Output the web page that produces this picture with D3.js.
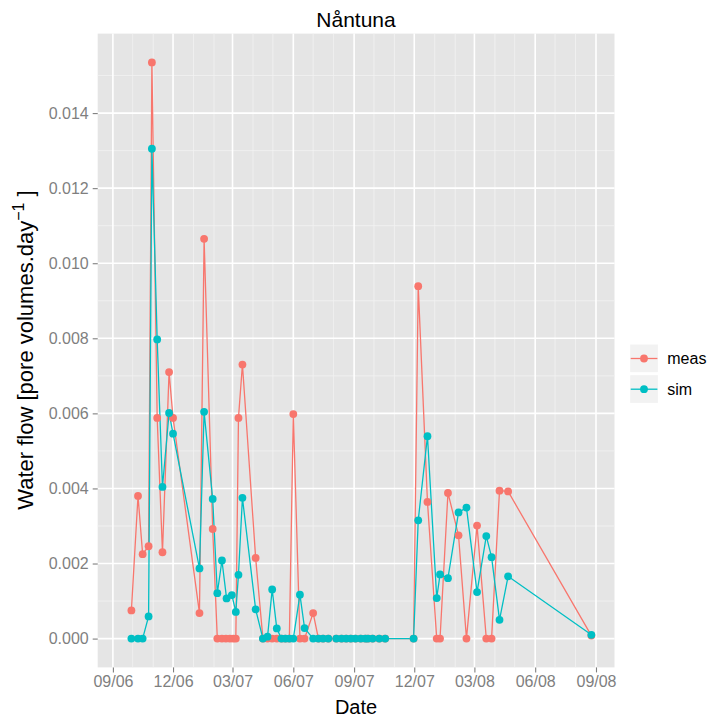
<!DOCTYPE html>
<html>
<head>
<meta charset="utf-8">
<script src="https://cdn.jsdelivr.net/npm/d3@7"></script>
<style>
  body { margin: 0; background: #fff; }
  svg text { font-family: "Liberation Sans", Arial, sans-serif; }
</style>
</head>
<body>
<div id="chart"></div>
<script>
// measured flow
const measDates = ["2006-09-29","2006-10-09","2006-10-16","2006-10-25","2006-10-30","2006-11-07","2006-11-15","2006-11-25","2006-12-01",
  "2007-01-10","2007-01-17","2007-01-30","2007-02-06","2007-02-13","2007-02-19","2007-02-25","2007-03-02","2007-03-06","2007-03-10","2007-03-16",
  "2007-04-05","2007-04-16","2007-04-23","2007-04-30","2007-05-07","2007-05-14","2007-05-20","2007-05-26","2007-06-01","2007-06-11","2007-06-18",
  "2007-07-01","2007-07-09","2007-07-16","2007-07-24","2007-08-05","2007-08-13","2007-08-20","2007-08-27","2007-09-03","2007-09-11","2007-09-18",
  "2007-09-22","2007-09-29","2007-10-09","2007-10-18","2007-11-30","2007-12-07","2007-12-21",
  "2008-01-04","2008-01-09","2008-01-21","2008-02-06","2008-02-18","2008-03-05","2008-03-19","2008-03-27","2008-04-08","2008-04-21","2008-08-25"];
const measValues = [0.00075,0.0038,0.00225,0.00246,0.01535,0.00588,0.0023,0.0071,0.00588,
  0.00068,0.01065,0.00292,0,0,0,0,0,0,0.00588,0.0073,
  0.00215,0,0,0,0,0,0,0,0.00598,0,0,
  0.00068,0,0,0,0,0,0,0,0,0,0,
  0,0,0,0,0,0.00939,0.00364,
  0,0,0.00388,0.00275,0,0.00301,0,0,0.00394,0.00392,0.00008];

// simulated flow
const simDates = ["2006-09-29","2006-10-09","2006-10-16","2006-10-25","2006-10-30","2006-11-07","2006-11-15","2006-11-25","2006-12-01",
  "2007-01-10","2007-01-17","2007-01-30","2007-02-06","2007-02-13","2007-02-20","2007-02-28","2007-03-06","2007-03-10","2007-03-16",
  "2007-04-05","2007-04-16","2007-04-23","2007-04-30","2007-05-07","2007-05-14","2007-05-20","2007-05-26","2007-06-01","2007-06-11","2007-06-18",
  "2007-07-01","2007-07-09","2007-07-16","2007-07-24","2007-08-05","2007-08-13","2007-08-20","2007-08-27","2007-09-03","2007-09-11","2007-09-18",
  "2007-09-22","2007-09-29","2007-10-09","2007-10-18","2007-11-30","2007-12-07","2007-12-21",
  "2008-01-04","2008-01-09","2008-01-21","2008-02-06","2008-02-18","2008-03-05","2008-03-19","2008-03-27","2008-04-08","2008-04-21","2008-08-25"];
const simValues = [0,0,0,0.00059,0.01305,0.00797,0.00404,0.00601,0.00546,
  0.00187,0.00604,0.00372,0.00121,0.00208,0.00107,0.00116,0.00071,0.0017,0.00375,
  0.00078,0,0.00005,0.00131,0.00027,0,0,0,0,0.00117,0.00028,
  0,0,0,0,0,0,0,0,0,0,0,
  0,0,0,0,0,0.00315,0.00539,
  0.00108,0.00171,0.00161,0.00336,0.00349,0.00124,0.00273,0.00217,0.0005,0.00166,0.0001];

const seriesNames = ["meas", "sim"];
const seriesColors = ["#F8766D", "#00BFC4"];
const yTicks = [0, 0.002, 0.004, 0.006, 0.008, 0.010, 0.012, 0.014];
const yMinor = [0.001, 0.003, 0.005, 0.007, 0.009, 0.011, 0.013, 0.015];
const xLimits = ["2006-08-09", "2008-09-29"];

const parse = d3.timeParse("%Y-%m-%d");
const series = [
  { name: "meas", color: seriesColors[0], points: measDates.map((d, i) => ({ date: parse(d), value: measValues[i] })) },
  { name: "sim", color: seriesColors[1], points: simDates.map((d, i) => ({ date: parse(d), value: simValues[i] })) }
];

const width = 710, height = 724;
const panel = { left: 97.7, right: 614.5, top: 33.6, bottom: 667.4 };

const svg = d3.select('#chart').append('svg')
  .attr('width', width)
  .attr('height', height);

const x = d3.scaleTime()
  .domain(xLimits.map(parse))
  .range([panel.left, panel.right]);

// 5% expansion like ggplot
const allVals = measValues.concat(simValues);
const yMin = d3.min(allVals), yMax = d3.max(allVals);
const pad = (yMax - yMin) * 0.05;
const y = d3.scaleLinear()
  .domain([yMin - pad, yMax + pad])
  .range([panel.bottom, panel.top]);

// panel background
svg.append('rect')
  .attr('x', panel.left).attr('y', panel.top)
  .attr('width', panel.right - panel.left)
  .attr('height', panel.bottom - panel.top)
  .attr('fill', '#E5E5E5');

const grid = svg.append('g');
const monthTicks = d3.timeMonth.range(parse("2006-08-01"), parse("2008-10-02"))
  .filter(d => x(d) > panel.left && x(d) < panel.right);
const majorX = monthTicks.filter(d => (d.getMonth() % 3) === 2);

// minor grid
grid.selectAll('line.xminor')
  .data(monthTicks.filter(d => (d.getMonth() % 3) !== 2))
  .enter().append('line')
  .attr('x1', d => x(d)).attr('x2', d => x(d))
  .attr('y1', panel.top).attr('y2', panel.bottom)
  .attr('stroke', '#F2F2F2').attr('stroke-width', 0.8);
grid.selectAll('line.yminor')
  .data(yMinor)
  .enter().append('line')
  .attr('x1', panel.left).attr('x2', panel.right)
  .attr('y1', d => y(d)).attr('y2', d => y(d))
  .attr('stroke', '#F2F2F2').attr('stroke-width', 0.8);

// major grid
grid.selectAll('line.xmajor')
  .data(majorX)
  .enter().append('line')
  .attr('x1', d => x(d)).attr('x2', d => x(d))
  .attr('y1', panel.top).attr('y2', panel.bottom)
  .attr('stroke', '#FFFFFF').attr('stroke-width', 1.6);
grid.selectAll('line.ymajor')
  .data(yTicks)
  .enter().append('line')
  .attr('x1', panel.left).attr('x2', panel.right)
  .attr('y1', d => y(d)).attr('y2', d => y(d))
  .attr('stroke', '#FFFFFF').attr('stroke-width', 1.6);

// lines, then points (same layer order as ggplot)
const line = d3.line()
  .x(d => x(d.date))
  .y(d => y(d.value));

svg.selectAll('path.series')
  .data(series)
  .enter().append('path')
  .attr('d', d => line(d.points))
  .attr('fill', 'none')
  .attr('stroke', d => d.color)
  .attr('stroke-width', 1.3);

series.forEach(s => {
  svg.append('g').selectAll('circle')
    .data(s.points)
    .enter().append('circle')
    .attr('cx', d => x(d.date))
    .attr('cy', d => y(d.value))
    .attr('r', 3.9)
    .attr('fill', s.color);
});

// axes
const xAxis = svg.append('g')
  .attr('transform', `translate(0,${panel.bottom})`)
  .call(d3.axisBottom(x).tickValues(majorX).tickFormat(d3.timeFormat("%m/%y")).tickSize(5).tickPadding(3));
const yAxis = svg.append('g')
  .attr('transform', `translate(${panel.left},0)`)
  .call(d3.axisLeft(y).tickValues(yTicks).tickFormat(d3.format(".3f")).tickSize(5).tickPadding(4));

[xAxis, yAxis].forEach(a => {
  a.select('.domain').remove();
  a.selectAll('line').attr('stroke', '#7F7F7F').attr('stroke-width', 1.1);
  a.selectAll('text').attr('fill', '#7F7F7F').style('font-size', '16px');
});

// titles
svg.append('text')
  .attr('x', 356).attr('y', 27)
  .attr('text-anchor', 'middle')
  .style('font-size', '21px')
  .text('Nåntuna');

svg.append('text')
  .attr('x', 356).attr('y', 714)
  .attr('text-anchor', 'middle')
  .style('font-size', '20px')
  .text('Date');

const yTitle = svg.append('text')
  .attr('transform', 'translate(33,350) rotate(-90)')
  .attr('text-anchor', 'middle')
  .style('font-size', '22px');
yTitle.append('tspan').text('Water flow [pore volumes.day');
yTitle.append('tspan').attr('dy', -9).style('font-size', '16px').text('\u22121');
yTitle.append('tspan').attr('dy', 9).text(' ]');

// legend
const legend = svg.append('g').attr('transform', 'translate(629.7,344)');
seriesNames.forEach((name, i) => {
  const g = legend.append('g').attr('transform', `translate(0,${i * 30.7})`);
  g.append('rect')
    .attr('width', 28.7).attr('height', 28.7)
    .attr('fill', '#F2F2F2')
    .attr('stroke', '#FFFFFF').attr('stroke-width', 1);
  g.append('line')
    .attr('x1', 1).attr('x2', 27.7)
    .attr('y1', 14.5).attr('y2', 14.5)
    .attr('stroke', seriesColors[i]).attr('stroke-width', 1.3);
  g.append('circle')
    .attr('cx', 14.3).attr('cy', 14.5).attr('r', 3.9)
    .attr('fill', seriesColors[i]);
  g.append('text')
    .attr('x', 37.6).attr('y', 20)
    .style('font-size', '16px')
    .text(name);
});
</script>
</body>
</html>
